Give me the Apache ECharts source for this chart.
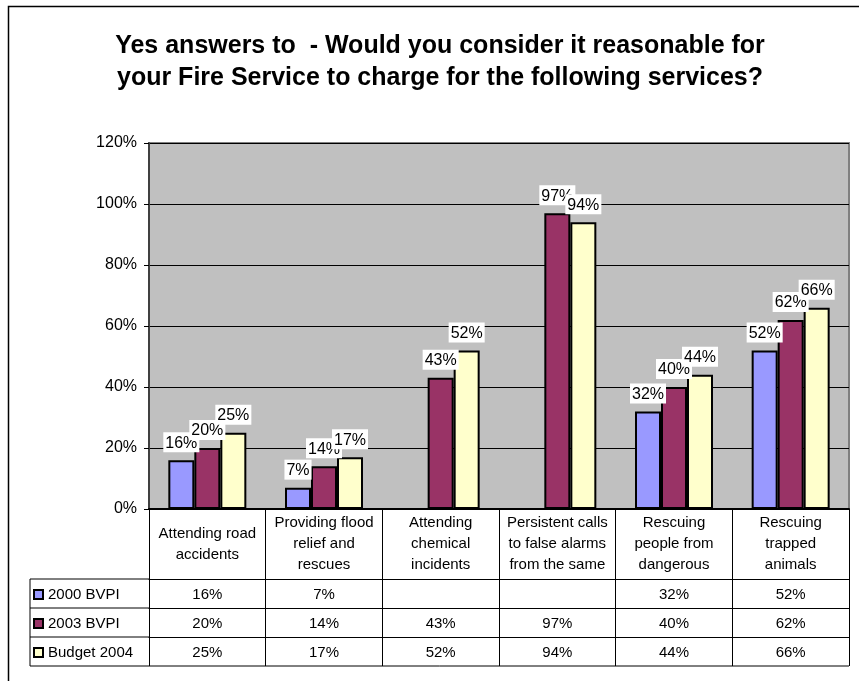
<!DOCTYPE html>
<html>
<head>
<meta charset="utf-8">
<script src="https://cdn.jsdelivr.net/npm/echarts@6/dist/echarts.min.js"></script>
<style>
  html, body { margin: 0; padding: 0; background: #fff; }
  #chart { width: 859px; height: 681px; }
</style>
</head>
<body>
<div id="chart"></div>
<script>
const titleText = 'Yes answers to  - Would you consider it reasonable for\nyour Fire Service to charge for the following services?';
const categories = [
  'Attending road\naccidents',
  'Providing flood\nrelief and\nrescues',
  'Attending\nchemical\nincidents',
  'Persistent calls\nto false alarms\nfrom the same',
  'Rescuing\npeople from\ndangerous',
  'Rescuing\ntrapped\nanimals',
];
const seriesNames = ['2000 BVPI', '2003 BVPI', 'Budget 2004'];
const bvpi2000 = [16, 7, null, null, 32, 52];
const bvpi2003 = [20, 14, 43, 97, 40, 62];
const budget2004 = [25, 17, 52, 94, 44, 66];
const seriesValues = [bvpi2000, bvpi2003, budget2004];
const seriesColors = ['#9999FF', '#993366', '#FFFFCC'];

const yTicks = { min: 0, max: 120, interval: 20 };

// layout of the plot and the data table under it
const gridLeft = 149;
const gridRightX = 849;
const gridTop = 143;
const axisY = 509;
const labelRowH = 70;
const rowH = 29;
const tableLeft = 30;
const FONT = 'Liberation Sans, Arial, sans-serif';

const fmt = (v) => (v == null ? '' : v + '%');

const chart = echarts.init(document.getElementById('chart'));

// one extra x axis per table row, showing that series' values
const rowAxes = seriesValues.map((vals, i) => ({
  type: 'category',
  gridIndex: 0,
  position: 'bottom',
  offset: labelRowH + rowH * i,
  data: categories,
  axisLine: { show: true, lineStyle: { color: '#000', width: 1 } },
  axisTick: { show: true, length: rowH, interval: 0, lineStyle: { color: '#000', width: 1 } },
  axisLabel: {
    interval: 0,
    margin: rowH / 2 + 1,
    verticalAlign: 'middle',
    fontFamily: FONT,
    fontSize: 15,
    color: '#000',
    formatter: (v, idx) => fmt(vals[idx]),
  },
}));

const tableBottom = axisY + labelRowH + rowH * seriesValues.length;
const graphics = [];
for (let r = 0; r <= seriesValues.length; r++) {
  const y = axisY + labelRowH + rowH * r;
  graphics.push({
    type: 'line',
    shape: { x1: tableLeft, y1: y, x2: r === seriesValues.length ? gridRightX : gridLeft, y2: y },
    style: { stroke: '#000', lineWidth: 1 },
  });
}
graphics.push({
  type: 'line',
  shape: { x1: tableLeft, y1: axisY + labelRowH, x2: tableLeft, y2: tableBottom },
  style: { stroke: '#000', lineWidth: 1 },
});
// outer chart frame
graphics.push({
  type: 'polyline',
  shape: { points: [[8.5, 690], [8.5, 6.5], [870, 6.5]] },
  style: { stroke: '#000', fill: null, lineWidth: 1.5 },
});
// title
graphics.push({
  type: 'text',
  x: 440,
  y: 30,
  style: {
    text: titleText,
    align: 'center',
    verticalAlign: 'top',
    font: 'bold 25px ' + FONT,
    lineHeight: 32,
    fill: '#000',
  },
});

chart.setOption({
  animation: false,
  backgroundColor: '#fff',
  legend: {
    orient: 'vertical',
    left: 33,
    top: axisY + labelRowH + 8,
    padding: 0,
    itemWidth: 9,
    itemHeight: 9,
    itemGap: 14,
    icon: 'rect',
    itemStyle: { borderColor: '#000', borderWidth: 2 },
    textStyle: { fontFamily: FONT, fontSize: 15, color: '#000', lineHeight: 15 },
    data: seriesNames,
  },
  grid: {
    left: gridLeft,
    right: 859 - gridRightX,
    top: gridTop,
    bottom: 681 - axisY,
    show: true,
    backgroundColor: '#C0C0C0',
    borderColor: '#808080',
    borderWidth: 2,
  },
  xAxis: [
    {
      type: 'category',
      data: categories,
      axisLine: { show: true, lineStyle: { color: '#000', width: 2 } },
      axisTick: { show: true, length: labelRowH, interval: 0, lineStyle: { color: '#000', width: 1 } },
      axisLabel: {
        interval: 0,
        margin: labelRowH / 2,
        verticalAlign: 'middle',
        align: 'center',
        fontFamily: FONT,
        fontSize: 15,
        lineHeight: 21,
        color: '#000',
      },
    },
    ...rowAxes,
  ],
  yAxis: {
    type: 'value',
    min: yTicks.min,
    max: yTicks.max,
    interval: yTicks.interval,
    axisLine: { show: true, lineStyle: { color: '#404040', width: 2 } },
    axisTick: { show: true, length: 5, lineStyle: { color: '#000' } },
    axisLabel: {
      formatter: '{value}%',
      margin: 12,
      fontFamily: FONT,
      fontSize: 16,
      color: '#000',
    },
    splitLine: { show: true, lineStyle: { color: '#000', width: 1 } },
  },
  series: seriesNames.map((name, i) => ({
    name,
    type: 'bar',
    xAxisIndex: 0,
    data: seriesValues[i],
    barWidth: 26,
    barGap: '0%',
    itemStyle: { color: seriesColors[i], borderColor: '#000', borderWidth: 2 },
    label: {
      show: true,
      position: 'top',
      distance: 8,
      formatter: (p) => fmt(p.value),
      fontFamily: FONT,
      fontSize: 16,
      color: '#000',
      backgroundColor: '#fff',
      padding: [3, 2, 1, 2],
    },
  })),
  graphic: graphics,
});
</script>
</body>
</html>
